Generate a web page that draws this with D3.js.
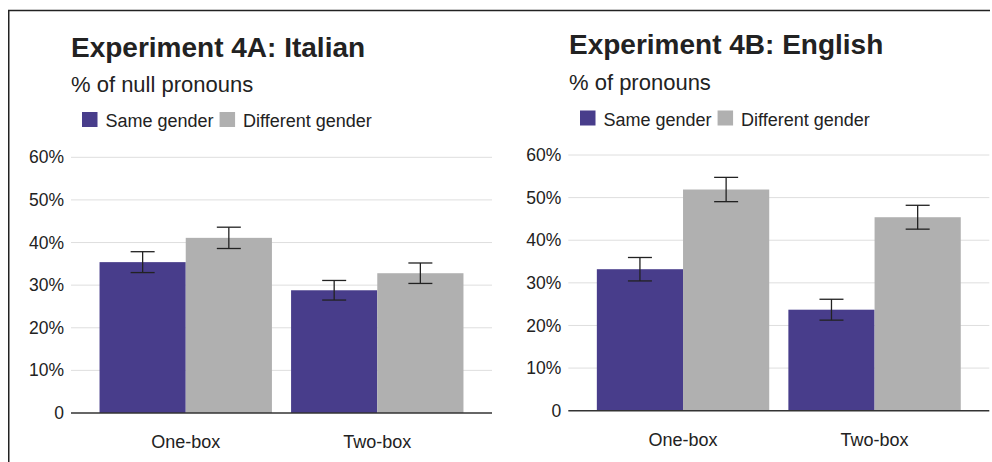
<!DOCTYPE html>
<html><head><meta charset="utf-8">
<script src="https://cdn.jsdelivr.net/npm/d3@7"></script>
<style>body{margin:0;background:#fff}svg{display:block}text{font-family:"Liberation Sans",Arial,sans-serif;fill:#222}</style>
</head><body><svg id="c" width="992" height="462"></svg>
<script>
const categories = ["One-box", "Two-box"];
const seriesNames = ["Same gender", "Different gender"];
const yTicks = [0, 10, 20, 30, 40, 50, 60];
const italianSame = [35.4, 28.8];
const italianDiff = [41.1, 32.8];
const italianSameErr = [2.45, 2.3];
const italianDiffErr = [2.5, 2.4];
const englishSame = [33.2, 23.7];
const englishDiff = [51.9, 45.4];
const englishSameErr = [2.75, 2.45];
const englishDiffErr = [2.85, 2.8];

const colors = ["#483d8b", "#b0b0b0"];
const svg = d3.select("#c");

// frame
svg.append("path").attr("d","M8.75,462V10.5H990").attr("fill","none").attr("stroke","#222").attr("stroke-width",1.5);

function panel(o){
  const g = svg.append("g");
  g.append("text").attr("x",o.tx).attr("y",o.titleY).attr("font-size",28).attr("font-weight","bold").text(o.title);
  g.append("text").attr("x",o.tx).attr("y",o.subY).attr("font-size",22).text(o.sub);
  // legend
  let lx = o.lx;
  seriesNames.forEach((s,i)=>{
    g.append("rect").attr("x",lx).attr("y",o.legY-15).attr("width",15.5).attr("height",15).attr("fill",colors[i]);
    const t = g.append("text").attr("x",lx+23.5).attr("y",o.legY).attr("font-size",18).text(s);
    lx += 23.5 + t.node().getComputedTextLength() + 6;
  });
  const y = d3.scaleLinear().domain([0,60]).range([o.base, o.base - 255.7]);
  const x0 = d3.scaleBand().domain(categories).range([o.x0, o.x1]).paddingInner(0.1).paddingOuter(0.149);
  const x1 = d3.scaleBand().domain([0,1]).range([0, x0.bandwidth()]);
  // grid
  g.append("g").selectAll("line").data(yTicks.filter(d=>d>0)).join("line")
    .attr("x1",o.x0).attr("x2",o.x1).attr("y1",d=>y(d)).attr("y2",d=>y(d))
    .attr("stroke","#dedede").attr("stroke-width",1);
  // y labels
  const ax = g.append("g").attr("transform",`translate(${o.x0},0)`)
    .call(d3.axisLeft(y).tickValues(yTicks).tickSize(0).tickPadding(7).tickFormat(d=>d===0?"0":d+"%"));
  ax.select(".domain").remove();
  ax.selectAll("text").attr("font-size",17.5).attr("fill","#222").attr("font-family","Liberation Sans, Arial, sans-serif");
  const vals = [o.same, o.diff], errs = [o.sameErr, o.diffErr];
  vals.forEach((arr,si)=>{
    g.append("g").selectAll("rect").data(arr).join("rect")
      .attr("x",(d,i)=>x0(categories[i])+x1(si)).attr("width",x1.bandwidth())
      .attr("y",d=>y(d)).attr("height",d=>y(0)-y(d)).attr("fill",colors[si]);
  });
  // baseline
  g.append("line").attr("x1",o.x0).attr("x2",o.x1).attr("y1",y(0)).attr("y2",y(0)).attr("stroke","#333").attr("stroke-width",1.5);
  // error bars
  vals.forEach((arr,si)=>{
    arr.forEach((v,i)=>{
      const cx = x0(categories[i])+x1(si)+x1.bandwidth()/2;
      const e = errs[si][i];
      const eg = g.append("g").attr("stroke","#222").attr("stroke-width",1.3);
      eg.append("line").attr("x1",cx).attr("x2",cx).attr("y1",y(v+e)).attr("y2",y(v-e));
      eg.append("line").attr("x1",cx-12).attr("x2",cx+12).attr("y1",y(v+e)).attr("y2",y(v+e));
      eg.append("line").attr("x1",cx-12).attr("x2",cx+12).attr("y1",y(v-e)).attr("y2",y(v-e));
    });
  });
  // x labels
  categories.forEach((c,i)=>{
    g.append("text").attr("x",x0(c)+x0.bandwidth()/2).attr("y",o.base+35).attr("text-anchor","middle").attr("font-size",18).text(c);
  });
}

panel({title:"Experiment 4A: Italian", sub:"% of null pronouns", tx:71, titleY:56.5, subY:91.5, lx:82, legY:127,
  base:413, x0:71, x1:492, same:italianSame, diff:italianDiff, sameErr:italianSameErr, diffErr:italianDiffErr});
panel({title:"Experiment 4B: English", sub:"% of pronouns", tx:569, titleY:53.5, subY:89.5, lx:580, legY:125.5,
  base:410.7, x0:568.3, x1:989.3, same:englishSame, diff:englishDiff, sameErr:englishSameErr, diffErr:englishDiffErr});
</script></body></html>
